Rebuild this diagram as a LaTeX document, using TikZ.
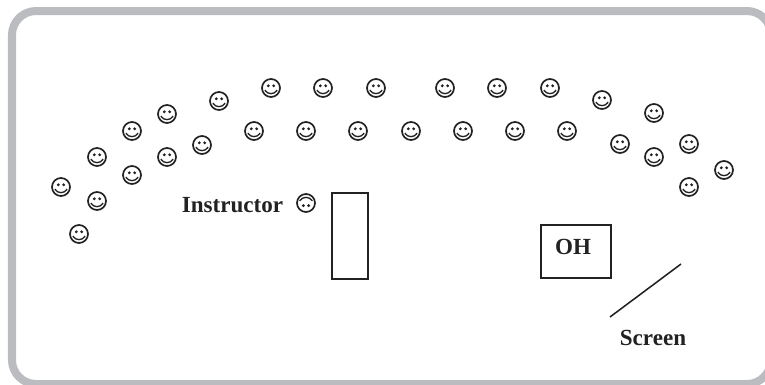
\documentclass[tikz,border=0pt]{standalone}
\usepackage{fontspec}
\setmainfont{Liberation Serif}
\usetikzlibrary{positioning}
\definecolor{framegray}{HTML}{BBBCC0}
\definecolor{inkblack}{HTML}{222222}
\tikzset{
  frameline/.style={draw=framegray, line width=0.2cm, rounded corners=0.6cm},
  facebase/.style={draw=inkblack, circle, line width=1.2pt, minimum size=0.45cm, inner sep=0pt},
  student/.style={facebase, path picture={
    \begin{scope}[shift={(path picture bounding box.center)}]
      \fill[inkblack] (-2.7,-2.2) circle (1.6) (2.7,-2.2) circle (1.6);
      \draw[inkblack, line width=0.95pt] (-6.2,2.2) .. controls (-3,6.8) and (3,6.8) .. (6.2,2.2);
    \end{scope}}},
  teacher/.style={facebase, path picture={
    \begin{scope}[shift={(path picture bounding box.center)}]
      \fill[inkblack] (-2.7,2.6) circle (1.6) (2.7,2.6) circle (1.6);
      \draw[inkblack, line width=0.95pt] (-6.4,-2.2) .. controls (-3,-6.8) and (3,-6.8) .. (6.4,-2.2);
    \end{scope}}},
  deskbox/.style={draw=inkblack, line width=1.3pt, inner sep=0pt},
  boldlabel/.style={font=\fontsize{16.4}{18}\selectfont\bfseries, text=inkblack, inner sep=0pt}
}
\begin{document}
\begin{tikzpicture}[x=0.025cm, y=-0.025cm]
  \clip (0,0) rectangle (765,384);
  \draw[frameline] (12,11) rectangle (771,384);
  % back row
  \foreach \px/\py [count=\i] in {61/187, 97/157, 132/131, 167/114, 219/101, 271/88, 323/88, 376/88,
      445/88, 497/88, 550/88, 602/100, 654/113, 689/144, 724/170}
    \node[student] (back\i) at (\px,\py) {};
  % front row
  \foreach \px/\py [count=\i] in {79/234, 97/201, 132/175, 167/157, 202/145, 254/131, 306/131, 358/131,
      411/131, 463/131, 515/131, 567/131, 620/144, 654/157, 689/187}
    \node[student] (front\i) at (\px,\py) {};
  \node[teacher] (instructor) at (306,203) {};
  \node[boldlabel] (instructorlabel) at (232.5,205) {Instructor};
  \node[deskbox, minimum width=0.9cm, minimum height=2.15cm] (desk) at (350,236) {};
  \node[deskbox, minimum width=1.75cm, minimum height=1.325cm] (oh) at (576,251.5) {};
  \node[boldlabel] (ohlabel) at (573,247) {OH};
  \coordinate (screenlow) at (610,317);
  \coordinate (screenhigh) at (681,264);
  \draw[inkblack, line width=1.1pt] (screenlow) -- (screenhigh);
  \node[boldlabel] (screenlabel) at (653,338) {Screen};
\end{tikzpicture}
\end{document}
